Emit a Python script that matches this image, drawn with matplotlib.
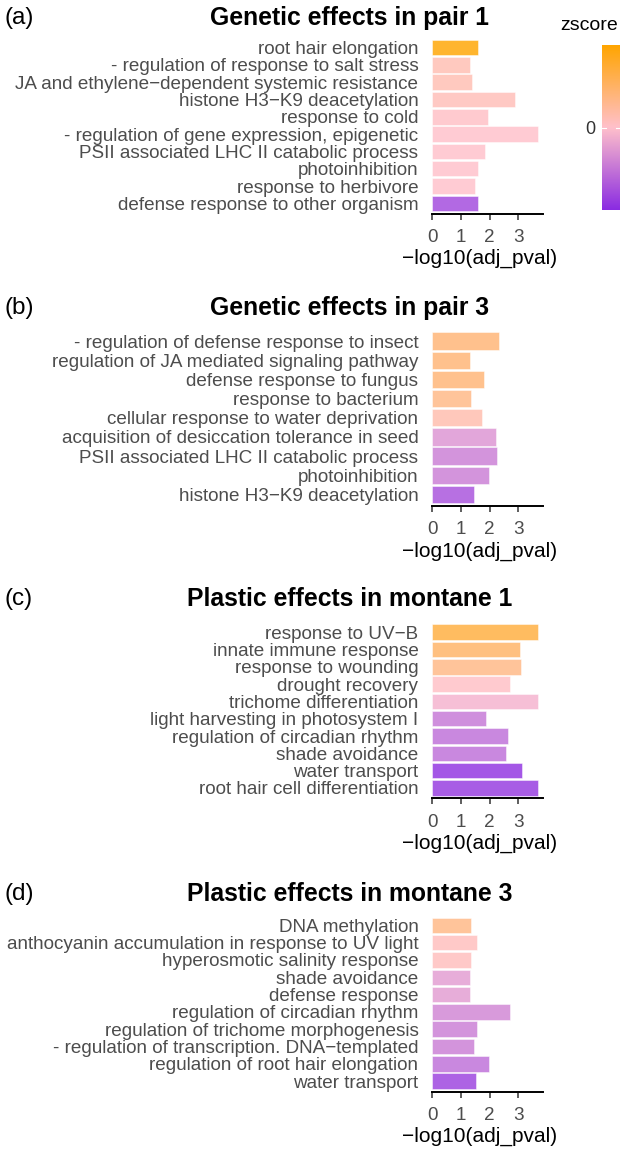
import numpy as np
import matplotlib.pyplot as plt
from matplotlib.colors import LinearSegmentedColormap, Normalize

plt.rcParams['font.family'] = ['Liberation Sans', 'DejaVu Sans']

# ---- data ----
terms_a = ["root hair elongation", "- regulation of response to salt stress",
           "JA and ethylene\u2212dependent systemic resistance", "histone H3\u2212K9 deacetylation",
           "response to cold", "- regulation of gene expression, epigenetic",
           "PSII associated LHC II catabolic process", "photoinhibition",
           "response to herbivore", "defense response to other organism"]
pval_a = [1.60, 1.32, 1.39, 2.89, 1.94, 3.68, 1.86, 1.60, 1.49, 1.60]
z_a = [2.0, 0.25, 0.25, 0.2, 0.05, 0.0, 0.0, 0.0, 0.0, -1.6]

terms_b = ["- regulation of defense response to insect", "regulation of JA mediated signaling pathway",
           "defense response to fungus", "response to bacterium",
           "cellular response to water deprivation", "acquisition of desiccation tolerance in seed",
           "PSII associated LHC II catabolic process", "photoinhibition",
           "histone H3\u2212K9 deacetylation"]
pval_b = [2.32, 1.32, 1.82, 1.36, 1.74, 2.22, 2.26, 1.99, 1.46]
z_b = [0.85, 0.85, 0.85, 0.7, 0.3, -0.6, -0.9, -0.9, -1.5]

terms_c = ["response to UV\u2212B", "innate immune response", "response to wounding",
           "drought recovery", "trichome differentiation", "light harvesting in photosystem I",
           "regulation of circadian rhythm", "shade avoidance", "water transport",
           "root hair cell differentiation"]
pval_c = [3.68, 3.06, 3.11, 2.71, 3.68, 1.89, 2.64, 2.57, 3.15, 3.68]
z_c = [1.4, 1.0, 0.7, 0.05, -0.2, -1.0, -1.1, -1.1, -1.9, -1.8]

terms_d = ["DNA methylation", "anthocyanin accumulation in response to UV light",
           "hyperosmotic salinity response", "shade avoidance", "defense response",
           "regulation of circadian rhythm", "regulation of trichome morphogenesis",
           "- regulation of transcription. DNA\u2212templated",
           "regulation of root hair elongation", "water transport"]
pval_d = [1.36, 1.58, 1.35, 1.33, 1.33, 2.72, 1.58, 1.47, 1.99, 1.53]
z_d = [0.7, 0.15, 0.15, -0.5, -0.5, -0.8, -0.9, -0.9, -1.1, -1.7]

titles = ["Genetic effects in pair 1", "Genetic effects in pair 3",
          "Plastic effects in montane 1", "Plastic effects in montane 3"]
tags = ["(a)", "(b)", "(c)", "(d)"]
panels = [(terms_a, pval_a, z_a), (terms_b, pval_b, z_b),
          (terms_c, pval_c, z_c), (terms_d, pval_d, z_d)]

cmap = LinearSegmentedColormap.from_list("zs", ["#8A2BE2", "#FFC0CB", "#FFA500"])
norm = Normalize(-2, 2)

W, H = 622, 1151
fig = plt.figure(figsize=(W / 100, H / 100), dpi=100)

ax_left, ax_w, ax_h = 432.3, 110.4, 176.5
ax_tops = [37.2, 329.5, 621.8, 915.0]
title_y = [18, 308, 599, 894]

for i, (terms, pv, zs) in enumerate(panels):
    top = ax_tops[i]
    ax = fig.add_axes([ax_left / W, 1 - (top + ax_h) / H, ax_w / W, ax_h / H])
    n = len(terms)
    ypos = np.arange(n)[::-1]
    ax.barh(ypos, pv, height=0.9, color=cmap(norm(np.array(zs))), alpha=0.82,
            edgecolor="white", linewidth=0.4)
    ax.set_xlim(0, 3.86)
    ax.set_ylim(-0.6, n - 0.4)
    ax.set_yticks(ypos)
    ax.set_yticklabels(terms, fontsize=13.6, color="#4D4D4D")
    ax.tick_params(axis="y", length=0, pad=10)
    ax.set_xticks([0, 1, 2, 3])
    ax.tick_params(axis="x", length=4.5, width=1.1, color="#333333",
                   labelsize=13.6, labelcolor="#4D4D4D", pad=6.5)
    ax.set_xlabel("\u2212log10(adj_pval)", fontsize=15, color="black")
    ax.xaxis.set_label_coords((480 - ax_left) / ax_w, -45 / ax_h)
    ax.xaxis.label.set_va("center")
    for s in ["top", "right", "left"]:
        ax.spines[s].set_visible(False)
    ax.spines["bottom"].set_linewidth(1.4)
    ax.spines["bottom"].set_color("black")
    fig.text(350 / W, 1 - title_y[i] / H, titles[i], ha="center", va="center",
             fontsize=17.8, fontweight="bold")
    fig.text(5 / W, 1 - title_y[i] / H, tags[i], ha="left", va="center", fontsize=17.5)

# colour bar legend
cax = fig.add_axes([602 / W, 1 - 210 / H, 18 / W, 165 / H])
grad = np.linspace(-2, 2, 256).reshape(-1, 1)
cax.imshow(grad, aspect="auto", cmap=cmap, norm=norm, origin="lower", extent=[0, 1, -2, 2])
cax.set_xticks([])
cax.set_yticks([0])
cax.set_yticklabels(["0"], fontsize=13, color="#333333")
cax.yaxis.tick_left()
cax.tick_params(axis="y", length=0, pad=5)
for s in cax.spines.values():
    s.set_visible(False)
cax.plot([0, 0.2], [0, 0], color="white", lw=0.8)
cax.plot([0.8, 1], [0, 0], color="white", lw=0.8)
cax.set_xlim(0, 1)
fig.text(560 / W, 1 - 25 / H, "zscore", ha="left", va="center", fontsize=14)

fig.savefig("out.png", dpi=100)
